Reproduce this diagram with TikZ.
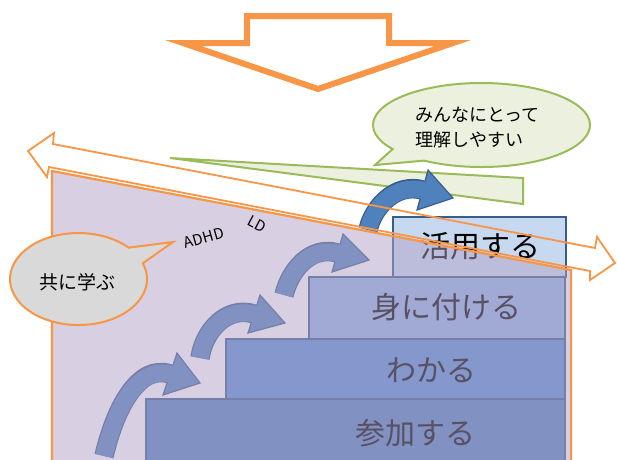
\documentclass[tikz,border=0pt]{standalone}
\usepackage{fontspec}
\newfontfamily\jp{Noto Sans CJK JP}
\usetikzlibrary{calc}
\definecolor{orng}{HTML}{F79646}
\definecolor{gfill}{HTML}{EBF1DE}
\definecolor{gline}{HTML}{9BBB59}
\definecolor{boxA}{HTML}{C6D9F1}
\definecolor{boxB}{HTML}{8DB3E2}
\definecolor{boxC}{HTML}{558ED5}
\definecolor{boxD}{HTML}{4F81BD}
\definecolor{bline}{HTML}{385D8A}
\definecolor{ablue}{HTML}{4F81BD}
\definecolor{ov}{HTML}{B3A2C7}
\definecolor{gbub}{HTML}{D9D9D9}
\tikzset{
  bubblegreen/.style={draw=gline, fill=gfill, line width=2},
  bubblegray/.style={draw=orng, fill=gbub, line width=2},
  stepbox/.style={draw=bline, line width=1.5},
  steptext/.style={font=\jp\fontsize{30}{34}\selectfont, text=black, inner sep=0},
  bubtext/.style={font=\jp\fontsize{18}{22}\selectfont, text=black, inner sep=0},
  bandout/.style={draw=bline, line width=19.5},
  bandin/.style={draw=ablue, line width=17, shorten >=-2.5pt},
  headst/.style={draw=bline, fill=ablue, line width=1.2, line join=miter},
  orline/.style={draw=orng, line width=1.8, line join=miter},
  smalllabel/.style={font=\jp\fontsize{15}{17}\selectfont, inner sep=0}
}
\begin{document}
\begin{tikzpicture}[x=1pt,y=-1pt]
\useasboundingbox (0,0) rectangle (617,459);
\fill[white] (0,0) rectangle (617,459);

% top down arrow
\draw[orng, line width=6, line join=miter] (247,16) -- (389,16) -- (389,43) -- (453,43) -- (318,89) -- (183,43) -- (247,43) -- cycle;

% green bubble
\draw[bubblegreen] ($(481.5,125)+(122:108.5 and 42)$) -- (375,165) -- ($(481.5,125)+(145:108.5 and 42)$) arc[start angle=145, end angle=482, x radius=108.5, y radius=42] -- cycle;
\node[bubtext, anchor=west] (g1) at (415,115) {みんなにとって};
\node[bubtext, anchor=west] (g2) at (415,140) {理解しやすい};

% green wedge
\draw[bubblegreen, line join=miter] (170,158) -- (523,178) -- (523,204) -- cycle;

% steps
\draw[stepbox, fill=boxD] (146,399) rectangle (565,475);
\draw[stepbox, fill=boxC] (226,339) rectangle (565,399);
\draw[stepbox, fill=boxB] (309,277) rectangle (565,339);
\draw[stepbox, fill=boxA] (393,217) rectangle (566,277);
\node[steptext] (s1) at (415,433) {参加する};
\node[steptext] (s2) at (431,370) {わかる};
\node[steptext] (s3) at (446,307) {身に付ける};
\node[steptext] (s4) at (480,246) {活用する};

% step arrows (under overlay)
\draw[bandout] (104,456) .. controls (116,405) and (139.7,363.9) .. (170,374);
\filldraw[headst] (177,353) -- (200,383) -- (163,395) -- cycle;
\draw[bandin] (104,456) .. controls (116,405) and (139.7,363.9) .. (170,374);

\draw[bandout] (200,358) .. controls (204,330) and (227.3,305.6) .. (254,314);
\filldraw[headst] (260,295) -- (285,323) -- (248,333) -- cycle;
\draw[bandin] (200,358) .. controls (204,330) and (227.3,305.6) .. (254,314);

\draw[bandout] (284,295) .. controls (290,270) and (310.6,245.2) .. (337.5,253);
\filldraw[headst] (343,234) -- (369,260) -- (332,272) -- cycle;
\draw[bandin] (284,295) .. controls (290,270) and (310.6,245.2) .. (337.5,253);

% translucent purple overlay
\fill[ov, fill opacity=0.5] (52,171) -- (571,270) -- (571,470) -- (52,470) -- cycle;

% dark blue arrow on top
\draw[bandout] (368,230) .. controls (373,207) and (395.5,182.6) .. (422.5,190);
\filldraw[headst] (428,170) -- (453,198) -- (417,210) -- cycle;
\draw[bandin] (368,230) .. controls (373,207) and (395.5,182.6) .. (422.5,190);

% trapezoid border
\draw[orng, line width=2.2] (52,470) -- (52,171) -- (571,270) -- (571,470);

% double arrow outline
\draw[orline] (28,151) -- (54,133) -- (53,144) -- (595,248) -- (597,237) -- (615,263) -- (590,280) -- (590,271) -- (49,167) -- (47,177) -- cycle;

% gray bubble
\draw[bubblegray] ($(78.5,279)+(-43:68.5 and 46)$) -- (173,242) -- ($(78.5,279)+(-20:68.5 and 46)$) arc[start angle=-20, end angle=317, x radius=68.5, y radius=46] -- cycle;
\node[font=\jp\fontsize{19}{22}\selectfont, inner sep=0] (kyo) at (77,282) {共に学ぶ};

% labels
\node[smalllabel, rotate=16] (adhd) at (204,238) {ADHD};
\node[smalllabel, rotate=-28] (ld) at (257,224) {LD};
\end{tikzpicture}
\end{document}
